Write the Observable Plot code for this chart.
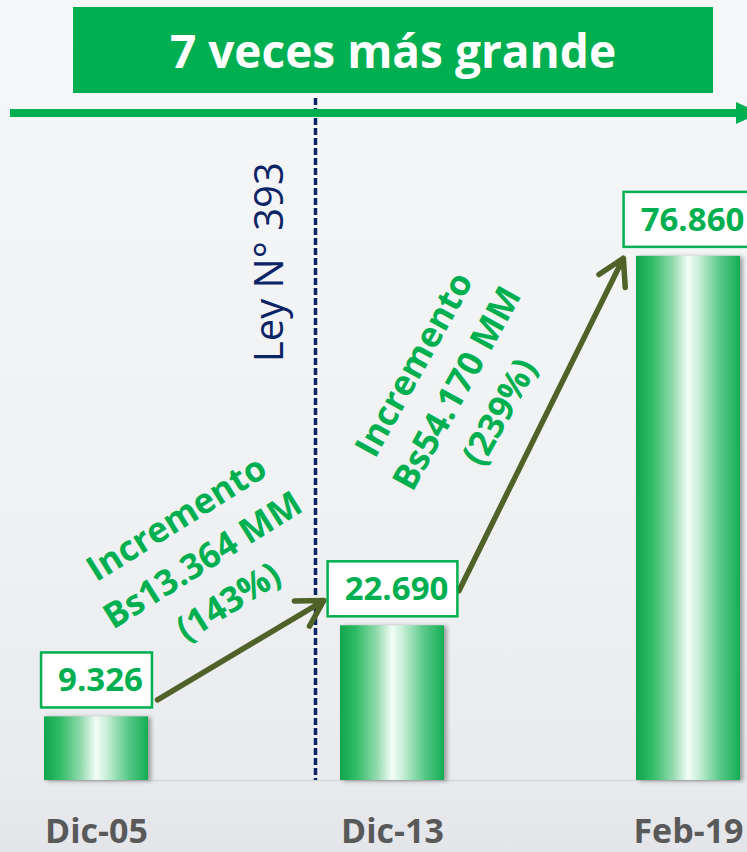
<!DOCTYPE html>
<html><head><meta charset="utf-8">
<script src="https://cdn.jsdelivr.net/npm/d3@7"></script>
<script src="https://cdn.jsdelivr.net/npm/@observablehq/plot@0.6"></script>
<style>
html,body{margin:0;padding:0;}
body{width:747px;height:852px;overflow:hidden;background:linear-gradient(180deg,#f6f7f9 0%,#eff1f3 60%,#e9ebee 90%,#e3e5e9 100%);font-family:"Open Sans",sans-serif;}
#wrap{position:relative;width:747px;height:852px;overflow:hidden;}
#banner{position:absolute;left:73px;top:7px;width:640px;height:86px;background:#00b050;color:#fff;font-weight:700;font-size:46px;display:flex;align-items:center;justify-content:center;font-family:"Open Sans",sans-serif;}
#hline{position:absolute;left:10px;top:109px;width:730px;height:8px;background:#00b050;}
#hhead{position:absolute;left:736px;top:102px;width:0;height:0;border-top:11px solid transparent;border-bottom:11px solid transparent;border-left:24px solid #00b050;}
#chart{position:absolute;left:0;top:0;}
</style></head>
<body><div id="wrap"><div id="chart"></div><div id="banner"></div><div id="hline"></div><div id="hhead"></div></div>
<script>
// ---- data ----
const categories = ["Dic-05", "Dic-13", "Feb-19"];
const values = [9.326, 22.690, 76.860];
const valueLabels = ["9.326", "22.690", "76.860"];
const bannerTitle = "7 veces más grande";
const lawLabel = "Ley N° 393";
const lawCategory = "Dic-13";
const lawLabelValue = 76;
const incrementTexts = ["Incremento\nBs13.364 MM\n(143%)", "Incremento\nBs54.170 MM\n(239%)"];
const incrementCategories = ["Dic-05", "Dic-13"];
const incrementValues = [32.8, 57.8];
const arrowFrom = ["Dic-05", "Dic-13"];
const arrowTo = ["Dic-13", "Feb-19"];
const arrowStartValues = [6.5, 8.1];
const arrowEndValues = [32.4, 95.9];

const data = categories.map((c, i) => ({cat: c, value: values[i], label: valueLabels[i]}));
const arrows = arrowFrom.map((f, i) => ({x1: f, x2: arrowTo[i], y1: arrowStartValues[i], y2: arrowEndValues[i]}));
const notes = incrementTexts.map((t, i) => ({text: t, cat: incrementCategories[i], value: incrementValues[i]}));

document.getElementById("banner").textContent = bannerTitle;

const green = "#00b050";
const olive = "#4f6228";
const navy = "#0b2466";
const font = "Open Sans";

const chart = Plot.plot({
  width: 747, height: 852,
  marginTop: 98, marginBottom: 72, marginLeft: 44, marginRight: 7,
  style: {background: "transparent", overflow: "visible"},
  x: {domain: categories, paddingInner: 0.649, paddingOuter: 0, axis: null},
  y: {domain: [0, 100], axis: null},
  marks: [
    Plot.ruleY([0], {stroke: "#d3d6db", strokeWidth: 1.5}),
    Plot.barY(data, {x: "cat", y: "value", fill: "url(#barGrad)"}),
    Plot.ruleX([lawCategory], {dx: -77, y1: 100, y2: 0, stroke: navy, strokeWidth: 3.5, strokeDasharray: "7,3"}),
    Plot.text([lawLabel], {x: () => lawCategory, y: () => lawLabelValue, text: d => d, rotate: -90, dx: -122,
      fontSize: 40, fontFamily: font, fill: navy}),
    Plot.arrow([arrows[0]], {x1: "x1", y1: "y1", x2: "x2", y2: "y2", insetStart: 71, insetEnd: 80,
      stroke: olive, strokeWidth: 5.5, headLength: 8}),
    Plot.arrow([arrows[1]], {x1: "x1", y1: "y1", x2: "x2", y2: "y2", insetStart: 150, insetEnd: 147,
      stroke: olive, strokeWidth: 5.5, headLength: 8}),
    Plot.text([notes[0]], {x: "cat", y: "value", text: "text", rotate: -32, dx: 104, lineHeight: 1.4,
      fontSize: 35, fontWeight: 700, fontFamily: font, fill: green}),
    Plot.text([notes[1]], {x: "cat", y: "value", text: "text", rotate: -61, dx: 61, lineHeight: 1.4,
      fontSize: 35, fontWeight: 700, fontFamily: font, fill: green}),
    Plot.text(data, {x: "cat", y: "value", text: "label", dy: -36, dx: 4,
      fontSize: 33, fontWeight: 700, fontFamily: font, fill: green}),
    Plot.text(categories, {x: d => d, frameAnchor: "bottom", dy: 62, text: d => d,
      fontSize: 34, fontWeight: 700, fontFamily: font, fill: "#595959"})
  ]
});
document.getElementById("chart").append(chart);

// gradient defs
const svg = d3.select(chart);
const defs = svg.insert("defs", ":first-child");
const grad = defs.append("linearGradient").attr("id", "barGrad").attr("x1", "0%").attr("x2", "100%").attr("y1", "0%").attr("y2", "0%");
[[0, "#12a64c"], [0.15, "#2fbb64"], [0.35, "#8ed9ac"], [0.5, "#f2fcf6"], [0.6, "#c9efd8"], [0.8, "#5cca8a"], [1, "#13ad52"]]
  .forEach(([o, c]) => grad.append("stop").attr("offset", o).attr("stop-color", c));
svg.selectAll('g[aria-label="bar"]').style("filter", "drop-shadow(3px 1px 2px rgba(0,0,0,0.35))");

// boxes behind value labels
svg.selectAll("text").filter(function() { return valueLabels.includes(this.textContent); }).each(function() {
  const b = this.getBBox();
  const cy = b.y + b.height / 2 + 1;
  d3.select(this.parentNode).insert("rect", () => this)
    .attr("transform", this.getAttribute("transform"))
    .attr("x", b.x - 17).attr("width", b.width + 26)
    .attr("y", cy - 27.5).attr("height", 55)
    .attr("fill", "#fff").attr("stroke", green).attr("stroke-width", 2.5);
});
</script>
</body></html>
